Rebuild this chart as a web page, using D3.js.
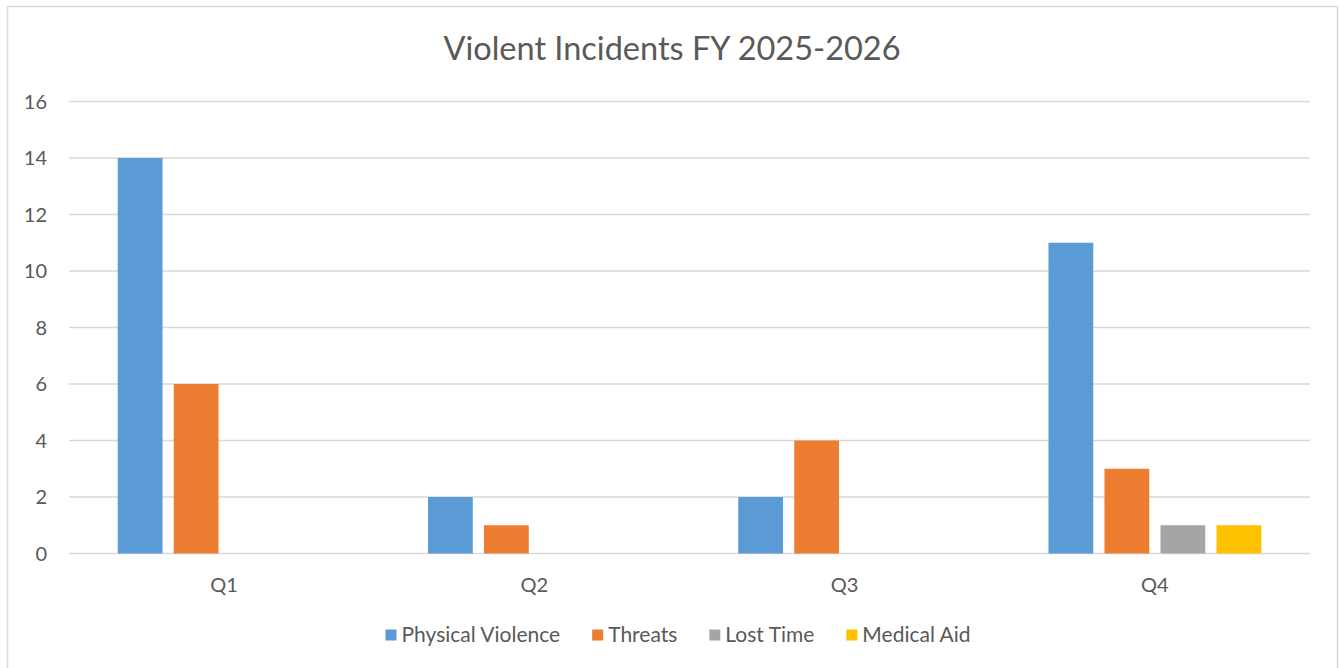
<!DOCTYPE html>
<html>
<head>
<meta charset="utf-8">
<script src="https://cdn.jsdelivr.net/npm/d3@7"></script>
<style>
  body { margin: 0; background: #fff; }
  text { font-family: Lato, "Open Sans", sans-serif; fill: #595959; }
</style>
</head>
<body>
<svg width="1340" height="668"></svg>
<script>
const quarters = ["Q1", "Q2", "Q3", "Q4"];
const seriesNames = ["Physical Violence", "Threats", "Lost Time", "Medical Aid"];
const physicalViolence = [14, 2, 2, 11];
const threats = [6, 1, 4, 3];
const lostTime = [0, 0, 0, 1];
const medicalAid = [0, 0, 0, 1];
const yTicks = [0, 2, 4, 6, 8, 10, 12, 14, 16];
const colors = ["#5B9BD5", "#ED7D31", "#A5A5A5", "#FFC000"];

const seriesValues = [physicalViolence, threats, lostTime, medicalAid];

const svg = d3.select("svg");

const plot = { left: 69, right: 1310, top: 101.5, bottom: 553.5 };

// chart border
svg.append("rect")
  .attr("x", 7.5).attr("y", 6.5)
  .attr("width", 1330).attr("height", 670)
  .attr("fill", "none")
  .attr("stroke", "#D9D9D9")
  .attr("stroke-width", 1.5);

svg.append("text")
  .attr("x", 672)
  .attr("y", 60)
  .attr("text-anchor", "middle")
  .style("font-size", "32.5px")
  .text("Violent Incidents FY 2025-2026");

const x0 = d3.scaleBand().domain(quarters).range([plot.left, plot.right]);
const x1 = d3.scaleBand().domain(seriesNames).range([0, x0.bandwidth()])
  .paddingInner(0.2).paddingOuter(0.87);
const y = d3.scaleLinear().domain([0, 16]).range([plot.bottom, plot.top]);

// gridlines
svg.append("g")
  .selectAll("line")
  .data(yTicks)
  .join("line")
  .attr("x1", plot.left).attr("x2", plot.right)
  .attr("y1", d => y(d)).attr("y2", d => y(d))
  .attr("stroke", "#D9D9D9")
  .attr("stroke-width", 1.5);

// y labels
svg.append("g")
  .selectAll("text")
  .data(yTicks)
  .join("text")
  .attr("x", 47)
  .attr("y", d => y(d))
  .attr("dy", "0.35em")
  .attr("text-anchor", "end")
  .style("font-size", "20px")
  .text(d => d);

// bars
const rows = [];
quarters.forEach((q, qi) => {
  seriesNames.forEach((s, si) => {
    rows.push({ q, s, si, v: seriesValues[si][qi] });
  });
});

svg.append("g")
  .selectAll("rect")
  .data(rows.filter(d => d.v > 0))
  .join("rect")
  .attr("x", d => x0(d.q) + x1(d.s))
  .attr("y", d => y(d.v))
  .attr("width", x1.bandwidth())
  .attr("height", d => y(0) - y(d.v))
  .attr("fill", d => colors[d.si]);

// x labels
svg.append("g")
  .selectAll("text")
  .data(quarters)
  .join("text")
  .attr("x", d => x0(d) + x0.bandwidth() / 2)
  .attr("y", 585)
  .attr("dy", "0.35em")
  .attr("text-anchor", "middle")
  .style("font-size", "20px")
  .text(d => d);

// legend
const legend = svg.append("g");
const items = legend.selectAll("g")
  .data(seriesNames)
  .join("g");
items.append("rect")
  .attr("width", 11).attr("height", 11)
  .attr("y", -5.5)
  .attr("fill", (d, i) => colors[i]);
items.append("text")
  .attr("x", 16)
  .attr("dy", "0.35em")
  .style("font-size", "21px")
  .text(d => d);

let offset = 0;
items.each(function () {
  const g = d3.select(this);
  g.attr("transform", `translate(${offset},0)`);
  offset += 16 + g.select("text").node().getComputedTextLength() + 32;
});
const legendWidth = offset - 32;
legend.attr("transform", `translate(${678 - legendWidth / 2},635)`);
</script>
</body>
</html>
